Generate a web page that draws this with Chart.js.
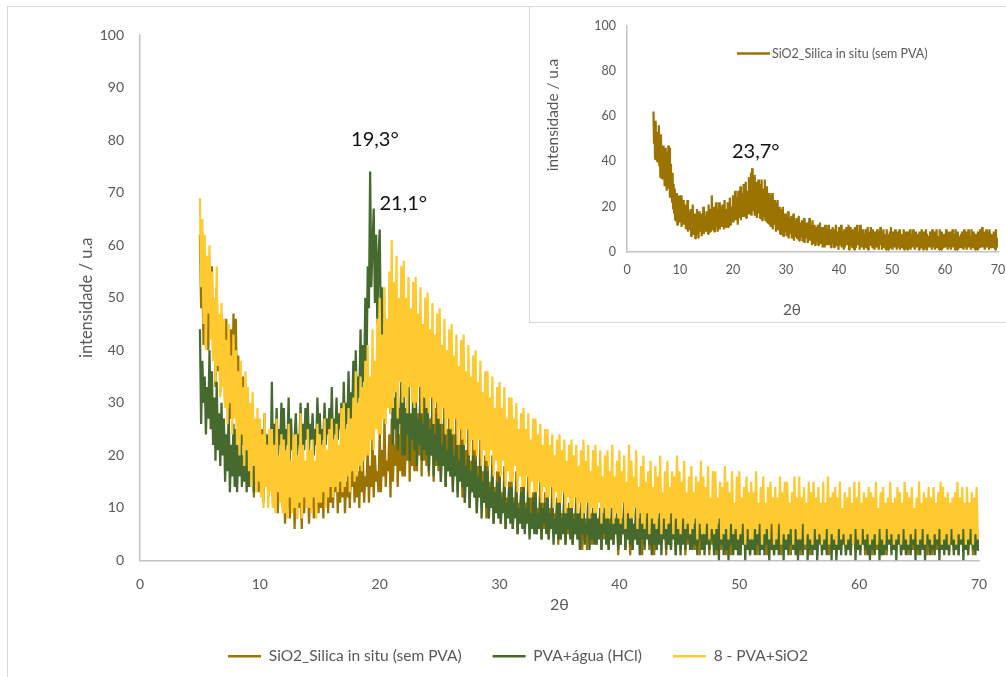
<!DOCTYPE html>
<html>
<head>
<meta charset="utf-8">
<script src="https://cdn.jsdelivr.net/npm/chart.js@4/dist/chart.umd.min.js"></script>
<style>
  html, body { margin: 0; padding: 0; background: #fff; overflow: hidden; width: 1006px; height: 677px; }
  #frame { position: absolute; left: 7px; top: 6px; width: 1100px; height: 720px; border: 1px solid #d9d9d9; box-sizing: border-box; }
  #main { position: absolute; left: 0; top: 0; }
  #insetBox { position: absolute; left: 529px; top: 6px; width: 560px; height: 317px; border: 1px solid #d9d9d9; box-sizing: border-box; background: #fff; }
  #inset { position: absolute; left: 0; top: 0; }
</style>
</head>
<body>
<div id="frame"></div>
<canvas id="main" width="1036" height="677"></canvas>
<div id="insetBox"><canvas id="inset" width="500" height="314"></canvas></div>
<script>
// Diffractogram sampling grid (2θ, degrees)
const TWO_THETA_START = 5.0;
const TWO_THETA_STEP = 0.1;

const SERIES_NAMES = ['SiO2_Silica in situ (sem PVA)', 'PVA+água (HCl)', '8 - PVA+SiO2'];

// SiO2 silica prepared in situ, without PVA (5.0° … 70.0°, one row per degree)
const sio2Silica = [
  62,48,55,41,58,44,51,40,53,45,
  56,38,49,33,52,36,45,32,47,35,
  42,29,46,31,38,27,44,30,47,28,
  46,24,39,27,33,22,35,19,30,17,
  28,14,23,16,26,12,21,15,25,13,
  22,13,25,11,19,14,23,12,20,15,
  21,10,17,13,23,9,18,12,16,10,
  19,7,15,10,21,8,14,11,17,6,
  16,8,19,10,14,6,18,9,15,11,
  17,7,13,10,20,8,16,12,14,9,
  18,10,15,8,21,12,17,9,19,11,
  25,10,17,13,20,9,18,11,22,12,
  19,9,15,12,22,10,17,14,20,11,
  21,12,17,10,23,13,19,11,16,14,
  22,11,18,14,24,12,20,15,17,13,
  25,13,21,16,27,14,19,17,24,12,
  27,15,22,18,29,14,24,17,26,16,
  30,16,25,19,31,15,27,18,23,17,
  33,17,28,20,35,16,37,19,30,18,
  34,16,27,20,31,15,29,18,32,17,
  30,15,26,18,32,14,25,17,28,16,
  32,14,24,17,29,13,22,16,26,12,
  25,11,21,14,26,10,19,13,23,12,
  22,9,18,12,23,10,17,11,20,8,
  19,8,15,11,20,7,14,10,17,9,
  17,7,13,10,18,6,12,9,15,8,
  16,6,12,9,17,5,11,8,14,7,
  15,6,11,8,16,5,12,7,13,9,
  14,5,10,8,15,4,11,6,13,7,
  13,4,10,6,15,5,9,7,12,3,
  14,4,9,6,12,3,10,5,11,7,
  12,3,9,5,13,4,8,6,11,2,
  11,4,8,2,12,5,9,3,10,6,
  12,3,7,5,10,2,9,4,11,6,
  10,2,8,4,12,3,7,5,9,1,
  11,3,8,5,12,2,9,4,7,1,
  10,2,7,4,11,3,8,5,12,1,
  9,3,11,5,7,2,10,4,8,1,
  11,2,8,4,12,3,7,5,9,1,
  12,3,9,2,10,5,7,1,8,4,
  10,2,8,4,11,1,7,3,9,5,
  11,3,7,2,10,4,8,1,9,3,
  8,2,10,4,7,1,9,3,11,5,
  9,1,7,4,10,2,8,3,6,1,
  10,3,8,1,7,4,9,2,11,3,
  8,1,9,3,7,2,10,4,6,1,
  9,2,7,4,10,1,8,3,6,2,
  8,3,10,1,7,4,9,2,6,1,
  9,2,7,3,10,1,8,4,6,2,
  10,3,7,1,9,4,8,2,6,3,
  8,1,9,3,7,2,10,4,6,1,
  9,3,7,2,10,1,8,4,6,2,
  7,2,9,4,8,1,10,3,6,2,
  9,1,8,3,10,2,7,4,6,1,
  10,3,7,1,9,4,8,2,6,3,
  8,2,10,4,7,1,9,3,6,2,
  9,1,7,3,10,2,8,4,6,1,
  10,3,8,1,9,4,7,2,6,3,
  8,2,9,4,7,1,10,3,6,2,
  9,1,8,3,10,2,7,4,6,1,
  10,3,7,2,9,4,8,1,6,3,
  8,1,9,3,7,2,10,4,6,2,
  11,2,8,4,9,1,7,3,10,2,
  9,3,7,1,10,4,8,2,6,3,
  8,2,9,4,7,1,10,3,6,2,
  5
];

// PVA + water (HCl)
const pvaAguaHCl = [
  44,26,38,30,35,24,33,27,40,25,
  36,22,31,19,34,21,28,18,30,20,
  27,15,24,17,29,13,22,16,26,14,
  25,13,22,16,28,14,20,15,24,13,
  23,14,27,16,21,13,25,17,22,15,
  25,16,22,18,28,15,24,19,21,17,
  34,18,26,21,29,19,25,22,30,20,
  29,20,25,22,31,19,27,21,24,23,
  28,20,24,22,30,19,26,21,29,23,
  30,21,26,23,28,20,25,22,31,24,
  28,21,25,23,30,22,27,24,29,22,
  33,22,27,24,31,23,28,25,30,23,
  34,24,30,26,36,25,32,27,38,26,
  40,28,35,31,44,30,41,34,50,36,
  56,48,74,52,60,67,49,62,45,58,
  63,42,52,36,47,33,40,30,38,28,
  36,22,31,25,38,21,29,26,34,20,
  35,20,29,24,36,19,28,23,33,21,
  34,18,27,22,33,19,26,21,31,20,
  31,17,25,20,32,16,24,19,28,18,
  28,15,22,18,27,14,21,17,25,16,
  25,13,20,16,24,12,19,15,22,14,
  22,11,18,14,21,10,17,13,20,12,
  19,9,16,12,20,8,15,11,18,10,
  17,8,14,10,18,7,13,9,15,8,
  16,7,12,9,15,6,11,8,14,7,
  14,6,11,8,15,5,10,7,13,6,
  14,5,10,7,13,4,9,6,12,5,
  13,5,9,6,12,4,10,7,11,5,
  13,4,9,6,12,3,8,5,11,4,
  12,4,8,5,13,3,9,6,10,4,
  12,3,8,5,11,4,9,2,10,5,
  11,3,7,5,12,2,8,4,10,3,
  12,3,8,4,10,2,9,5,11,3,
  11,2,7,4,12,3,8,5,9,2,
  12,3,8,5,10,2,9,4,11,3,
  10,2,7,4,11,3,8,1,9,4,
  11,2,8,4,10,3,7,1,9,3,
  10,2,7,3,11,1,8,4,9,2,
  11,3,7,2,10,4,8,1,9,3,
  10,1,7,3,11,2,8,4,9,2,
  9,2,7,3,10,1,8,4,6,2,
  10,1,8,3,9,2,7,4,6,1,
  9,2,7,0,10,3,8,1,6,2,
  8,0,9,3,7,1,10,2,6,1,
  9,1,7,3,8,0,10,2,6,1,
  8,2,9,1,6,3,10,1,7,2,
  7,1,9,3,8,0,6,2,9,1,
  10,2,6,1,8,3,7,0,9,2,
  8,1,7,3,9,2,6,1,8,0,
  9,2,8,1,7,3,9,0,6,2,
  7,1,9,2,8,0,6,3,10,1,
  8,2,6,1,9,3,7,0,8,2,
  9,0,7,2,8,1,10,3,6,1,
  7,2,9,1,6,3,8,0,9,2,
  8,1,7,3,10,2,6,1,8,0,
  9,2,6,1,8,3,7,0,9,1,
  7,1,9,2,6,3,8,1,10,2,
  8,0,7,3,9,1,6,2,8,1,
  9,2,8,1,7,3,9,0,6,2,
  7,1,9,2,8,0,6,3,9,1,
  8,2,6,1,9,3,7,0,8,2,
  9,1,7,2,8,1,10,3,6,1,
  7,2,9,1,6,3,8,0,9,2,
  8,1,7,3,9,2,6,1,8,2,
  2
];

// Sample 8: PVA + SiO2
const pvaSiO2 = [
  69,52,65,45,62,40,58,47,60,42,
  55,38,50,34,56,37,47,31,49,33,
  46,29,42,26,45,30,39,24,43,27,
  40,22,36,20,38,24,33,18,36,21,
  33,17,30,14,32,18,27,13,29,15,
  27,12,24,10,28,14,22,10,25,13,
  25,10,22,9,27,13,20,11,24,9,
  23,9,21,8,26,12,19,9,24,10,
  24,8,20,11,28,8,22,12,19,10,
  25,10,21,9,23,12,19,8,26,11,
  24,11,22,13,27,10,21,12,25,14,
  27,12,23,14,26,13,22,15,29,13,
  30,14,25,16,29,13,27,17,31,15,
  36,16,30,18,35,17,33,19,38,20,
  41,20,35,23,44,21,38,25,46,24,
  50,24,43,27,52,26,46,29,55,28,
  61,29,53,32,58,27,50,34,56,30,
  57,31,50,28,54,33,48,30,53,29,
  54,30,47,33,52,28,45,31,50,29,
  51,28,44,31,49,26,43,30,47,27,
  48,26,41,29,46,24,40,27,44,25,
  45,24,39,27,43,22,37,25,42,23,
  43,22,36,25,41,20,35,23,39,21,
  40,20,34,23,38,18,32,21,36,19,
  36,18,31,21,35,16,29,19,33,17,
  34,16,29,19,33,14,27,17,31,15,
  31,15,27,18,30,13,25,16,28,14,
  29,14,25,16,28,12,23,15,27,13,
  27,13,24,15,26,11,22,14,25,12,
  25,12,22,14,24,10,20,13,23,11,
  24,11,21,13,23,9,19,12,22,10,
  23,10,20,12,22,9,18,11,21,8,
  23,9,19,11,22,8,17,10,21,9,
  22,9,18,11,21,7,16,10,20,8,
  21,8,17,10,22,7,16,9,19,8,
  21,7,17,11,20,6,15,9,22,8,
  19,8,16,10,21,6,14,9,18,7,
  20,6,15,9,17,5,19,8,14,7,
  18,6,16,9,20,5,13,8,17,6,
  19,7,14,9,17,5,16,8,20,6,
  17,5,15,8,19,6,13,7,16,5,
  18,6,13,8,16,4,15,7,19,5,
  16,5,14,7,18,4,12,6,17,5,
  17,6,12,8,15,4,14,5,18,6,
  15,4,13,7,17,5,11,6,16,4,
  17,5,12,7,14,3,16,6,13,4,
  15,4,13,6,17,5,11,7,14,3,
  16,5,11,6,14,4,15,7,12,3,
  14,4,12,7,16,3,13,5,15,4,
  15,5,11,6,13,3,16,6,12,4,
  16,4,12,7,14,3,11,5,15,4,
  13,3,15,6,12,4,14,5,11,3,
  15,4,11,6,16,3,12,5,13,4,
  14,3,12,6,15,4,10,5,13,3,
  12,4,14,5,11,3,15,6,12,4,
  15,3,11,6,13,4,12,5,14,3,
  13,4,12,5,15,3,10,6,13,4,
  14,3,11,6,12,4,15,5,11,3,
  12,4,14,5,13,3,11,6,15,4,
  13,3,12,5,14,4,10,6,12,3,
  15,4,11,6,13,3,12,5,14,4,
  12,3,14,5,11,4,13,6,15,3,
  14,4,12,5,13,3,11,6,12,4,
  13,3,15,5,12,4,14,6,11,3,
  14,4,11,6,13,3,12,5,14,4,
  6
];

// Axis ticks
const X_TICKS = [0, 10, 20, 30, 40, 50, 60, 70];
const Y_TICKS_MAIN = [0, 10, 20, 30, 40, 50, 60, 70, 80, 90, 100];
const Y_TICKS_INSET = [0, 20, 40, 60, 80, 100];

// Peak positions annotated on the curves
const PEAK_LABELS_MAIN = ['19,3°', '21,1°'];
const PEAK_LABELS_INSET = ['23,7°'];

const BROWN = '#9a7300';
const GREEN = '#466a2d';
const YELLOW = '#ffc930';
const AXIS_TEXT = '#595959';
const AXIS_LINE = '#c4c4c4';
const FONT = 'Lato, "Open Sans", sans-serif';

const toPoints = values => values.map((v, i) => ({ x: +(TWO_THETA_START + i * TWO_THETA_STEP).toFixed(1), y: v }));

const fixedTicks = list => scale => { scale.ticks = list.map(v => ({ value: v })); };

// Text labels placed at data coordinates
const textLabels = {
  id: 'textLabels',
  afterDatasetsDraw(chart, args, opts) {
    const { ctx, scales: { x, y } } = chart;
    ctx.save();
    ctx.fillStyle = '#111';
    ctx.textAlign = 'center';
    ctx.textBaseline = 'middle';
    ctx.font = opts.size + 'px ' + FONT;
    (opts.items || []).forEach(it => {
      ctx.fillText(it.text, x.getPixelForValue(it.x), y.getPixelForValue(it.y));
    });
    ctx.restore();
  }
};

// Axis titles and legend of the small panel, drawn at fixed canvas positions
const insetDecor = {
  id: 'insetDecor',
  afterDraw(chart, args, opts) {
    const { ctx } = chart;
    ctx.save();
    ctx.fillStyle = AXIS_TEXT;
    ctx.textBaseline = 'middle';
    ctx.textAlign = 'center';
    ctx.font = opts.titleSize + 'px ' + FONT;
    ctx.fillText(opts.xTitle, opts.xTitlePos[0], opts.xTitlePos[1]);
    ctx.translate(opts.yTitlePos[0], opts.yTitlePos[1]);
    ctx.rotate(-Math.PI / 2);
    ctx.fillText(opts.yTitle, 0, 0);
    ctx.restore();

    ctx.save();
    const [lx, ly] = opts.legendPos;
    ctx.strokeStyle = chart.data.datasets[0].borderColor;
    ctx.lineWidth = 2.5;
    ctx.beginPath();
    ctx.moveTo(lx, ly);
    ctx.lineTo(lx + 33, ly);
    ctx.stroke();
    ctx.fillStyle = AXIS_TEXT;
    ctx.font = opts.legendSize + 'px ' + FONT;
    ctx.textAlign = 'left';
    ctx.textBaseline = 'middle';
    ctx.fillText(chart.data.datasets[0].label, lx + 35, ly);
    ctx.restore();
  }
};

const lineStyle = { point: { radius: 0 }, line: { borderWidth: 2.25, tension: 0, borderJoinStyle: 'bevel' } };

new Chart(document.getElementById('main'), {
  type: 'line',
  data: {
    datasets: [
      { label: SERIES_NAMES[0], data: toPoints(sio2Silica), borderColor: BROWN, backgroundColor: BROWN, order: 3 },
      { label: SERIES_NAMES[1], data: toPoints(pvaAguaHCl), borderColor: GREEN, backgroundColor: GREEN, order: 2 },
      { label: SERIES_NAMES[2], data: toPoints(pvaSiO2), borderColor: YELLOW, backgroundColor: YELLOW, order: 1 }
    ]
  },
  options: {
    responsive: false,
    animation: false,
    devicePixelRatio: 1,
    layout: { padding: { left: 57, right: 57, top: 35, bottom: 3 } },
    elements: lineStyle,
    scales: {
      x: {
        type: 'linear', min: 0, max: 70,
        afterBuildTicks: fixedTicks(X_TICKS),
        grid: { display: false, drawTicks: false },
        border: { display: true, color: AXIS_LINE, width: 1.5 },
        ticks: { color: AXIS_TEXT, font: { family: FONT, size: 14 }, padding: 16, maxRotation: 0 },
        title: { display: true, text: '2θ', color: AXIS_TEXT, font: { family: FONT, size: 16 }, padding: { top: 0, bottom: 3 } },
        afterFit(scale) { scale.height = 57; }
      },
      y: {
        type: 'linear', min: 0, max: 100,
        afterBuildTicks: fixedTicks(Y_TICKS_MAIN),
        grid: { display: false, drawTicks: false },
        border: { display: true, color: AXIS_LINE, width: 1.5 },
        ticks: { color: AXIS_TEXT, font: { family: FONT, size: 14 }, padding: 16 },
        title: { display: true, text: 'intensidade / u.a', color: AXIS_TEXT, font: { family: FONT, size: 16.5 }, padding: { top: 20, bottom: 0 } },
        afterFit(scale) { scale.width = 83; }
      }
    },
    plugins: {
      legend: {
        position: 'bottom',
        labels: {
          boxWidth: 33, boxHeight: 2.5, padding: 31,
          color: AXIS_TEXT, font: { family: FONT, size: 15.5 },
          sort: (a, b) => a.datasetIndex - b.datasetIndex,
          generateLabels(chart) {
            return Chart.defaults.plugins.legend.labels.generateLabels(chart).map(item => ({ ...item, lineWidth: 0 }));
          }
        }
      },
      tooltip: { enabled: false },
      textLabels: {
        size: 20,
        items: [
          { text: PEAK_LABELS_MAIN[0], x: 19.6, y: 80.1 },
          { text: PEAK_LABELS_MAIN[1], x: 21.96, y: 67.9 }
        ]
      }
    }
  },
  plugins: [textLabels]
});

new Chart(document.getElementById('inset'), {
  type: 'line',
  data: {
    datasets: [
      { label: SERIES_NAMES[0], data: toPoints(sio2Silica), borderColor: BROWN, backgroundColor: BROWN }
    ]
  },
  options: {
    responsive: false,
    animation: false,
    devicePixelRatio: 1,
    layout: { padding: { left: 8, right: 32, top: 14, bottom: 0 } },
    elements: lineStyle,
    scales: {
      x: {
        type: 'linear', min: 0, max: 70,
        afterBuildTicks: fixedTicks(X_TICKS),
        grid: { display: false, drawTicks: false },
        border: { display: true, color: AXIS_LINE, width: 1.5 },
        ticks: { color: AXIS_TEXT, font: { family: FONT, size: 12.5 }, padding: 10, maxRotation: 0 },
        afterFit(scale) { scale.height = 69; }
      },
      y: {
        type: 'linear', min: 0, max: 100,
        afterBuildTicks: fixedTicks(Y_TICKS_INSET),
        grid: { display: false, drawTicks: false },
        border: { display: true, color: AXIS_LINE, width: 1.5 },
        ticks: { color: AXIS_TEXT, font: { family: FONT, size: 12.5 }, padding: 11 },
        afterFit(scale) { scale.width = 89; }
      }
    },
    plugins: {
      legend: { display: false },
      tooltip: { enabled: false },
      textLabels: { size: 20, items: [{ text: PEAK_LABELS_INSET[0], x: 24.3, y: 44.2 }] },
      insetDecor: {
        xTitle: '2θ', xTitlePos: [262, 303],
        yTitle: 'intensidade / u.a', yTitlePos: [23, 108],
        titleSize: 15.4,
        legendPos: [207, 46.5], legendSize: 12.5
      }
    }
  },
  plugins: [textLabels, insetDecor]
});
</script>
</body>
</html>
